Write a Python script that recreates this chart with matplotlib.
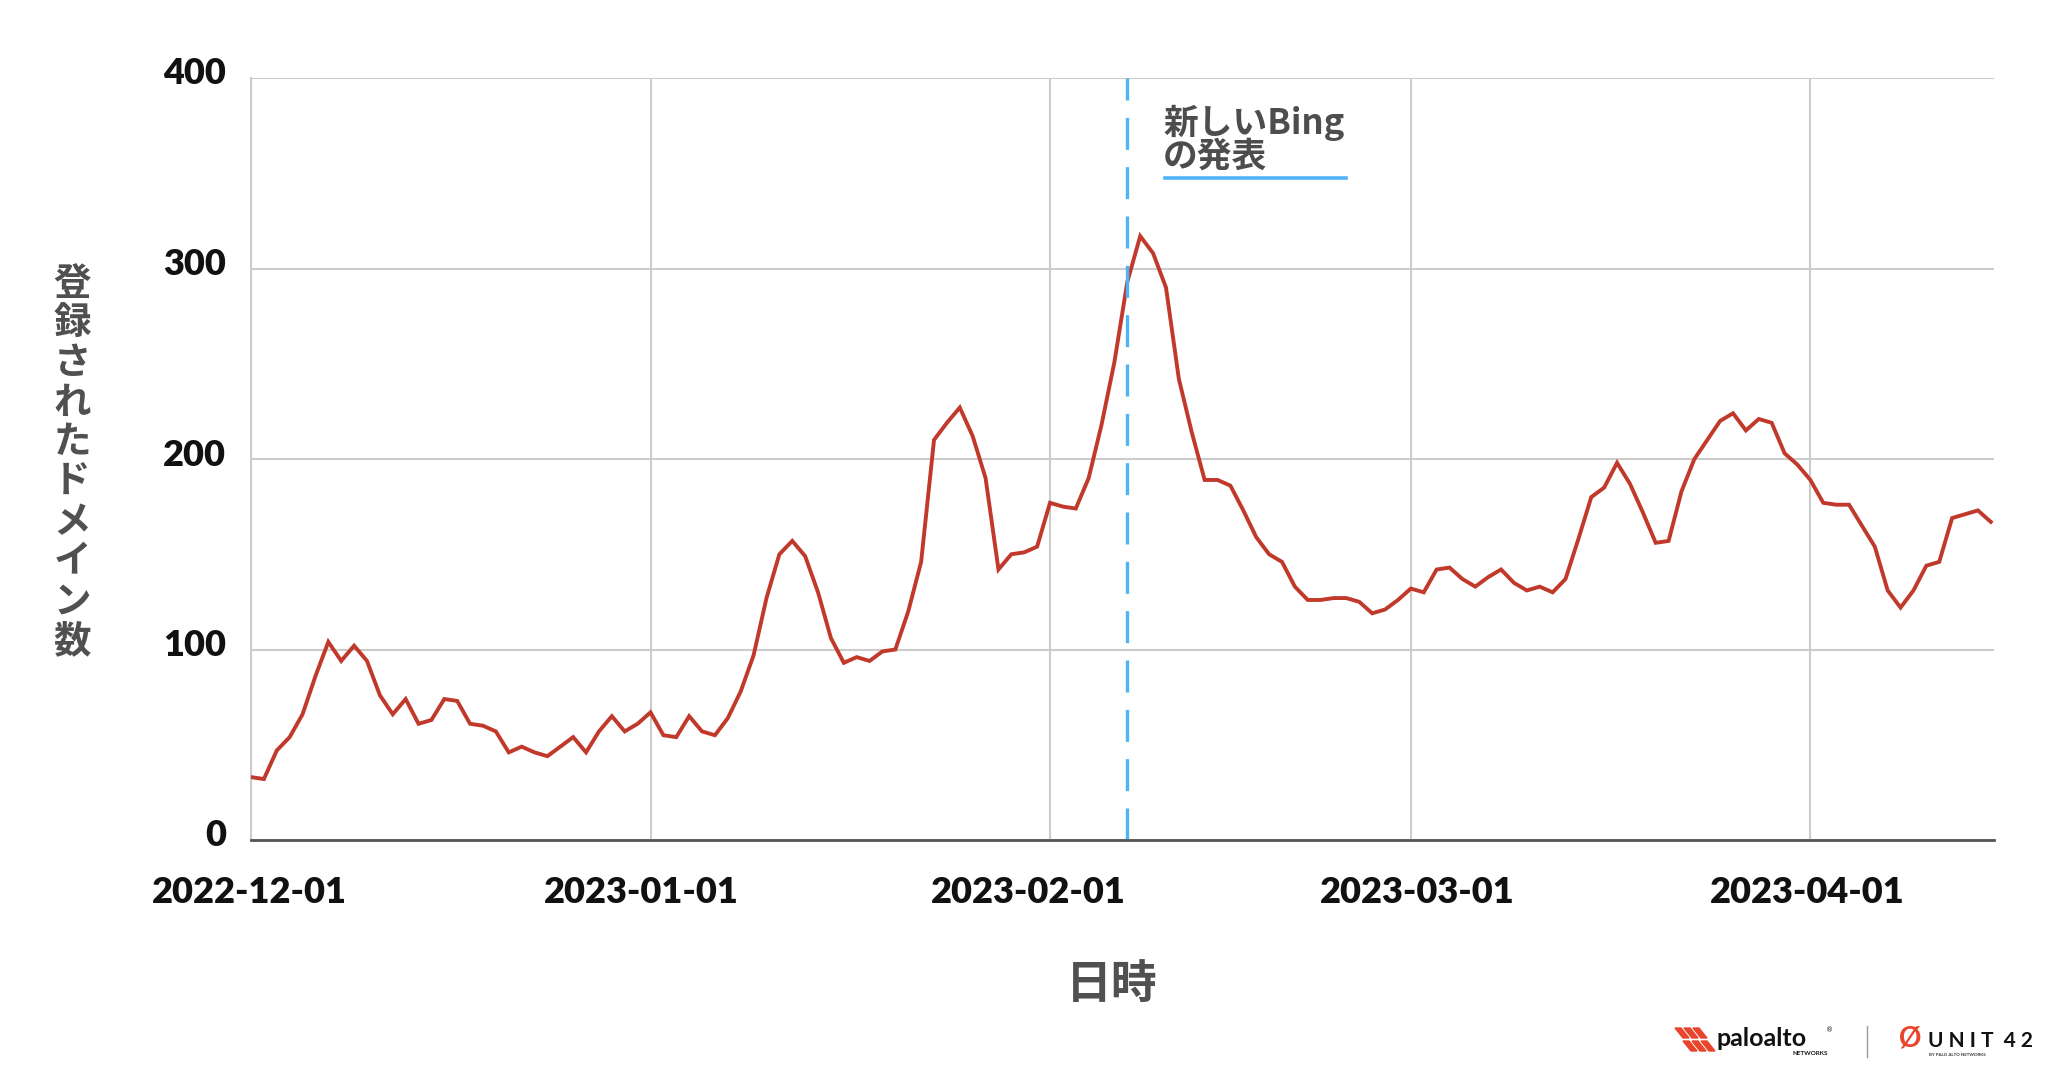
import numpy as np
import pandas as pd
import matplotlib
matplotlib.use('Agg')
import matplotlib.pyplot as plt
import matplotlib.dates as mdates
from matplotlib.transforms import ScaledTranslation
from matplotlib.lines import Line2D
from matplotlib.patches import Polygon

# daily counts of registered domains, 2022-12-01 .. 2023-04-15
start_date = '2022-12-01'
domains = [
    33, 32, 47, 54, 66, 86, 104, 94, 102, 94,
    76, 66, 74, 61, 63, 74, 73, 61, 60, 57,
    46, 49, 46, 44, 49, 54, 46, 57, 65, 57,
    61, 67, 55, 54, 65, 57, 55, 64, 78, 97,
    127, 150, 157, 149, 130, 106, 93, 96, 94, 99,
    100, 120, 146, 210, 219, 227, 212, 190, 142, 150,
    151, 154, 177, 175, 174, 190, 218, 251, 293, 317,
    308, 290, 242, 214, 189, 189, 186, 173, 159, 150,
    146, 133, 126, 126, 127, 127, 125, 119, 121, 126,
    132, 130, 142, 143, 137, 133, 138, 142, 135, 131,
    133, 130, 137, 158, 180, 185, 198, 187, 172, 156,
    157, 183, 200, 210, 220, 224, 215, 221, 219, 203,
    197, 189, 177, 176, 176, 165, 154, 131, 122, 131,
    144, 146, 169, 171, 173, 167,
]
xtick_labels = ['2022-12-01', '2023-01-01', '2023-02-01', '2023-03-01', '2023-04-01']
yticks = [0, 100, 200, 300, 400]
event_date = '2023-02-07'
event_label = ['新しいBing', 'の発表']
ylabel = '登録されたドメイン数'
xlabel = '日時'

dates = pd.date_range(start_date, periods=len(domains), freq='D')

W, H = 2048, 1074
fig = plt.figure(figsize=(W / 100, H / 100), dpi=100)
ax = fig.add_axes([251 / W, 1 - 840 / H, (1994 - 251) / W, (840 - 78) / H])

red = '#c0392b'
blue = '#4fb4f5'
gray_txt = '#505050'
tick_font = dict(family=['Lato', 'DejaVu Sans'], weight='heavy', size=26, color='#111111')
cjk = ['Noto Sans CJK JP', 'DejaVu Sans']

ax.plot(dates, domains, color=red, lw=2.8, zorder=3, solid_joinstyle='miter')
ax.axvline(pd.Timestamp(event_date), color=blue, lw=2.4,
           linestyle=(0, (9.6, 5.2)), zorder=4)

x0 = mdates.date2num(dates[0])
ax.set_xlim(x0, x0 + 135.25)
ax.set_ylim(0, 400)
ax.set_yticks(yticks)
ax.set_xticks([pd.Timestamp(t) for t in xtick_labels])
ax.set_xticklabels(xtick_labels, fontdict=tick_font)
ax.set_yticklabels([str(v) for v in yticks], fontdict=tick_font)
ax.tick_params(axis='both', length=0)
ax.tick_params(axis='x', pad=26)
ax.tick_params(axis='y', pad=18)
for lab in ax.get_yticklabels():
    lab.set_transform(lab.get_transform() + ScaledTranslation(0, 0.07, fig.dpi_scale_trans))
# the reference labels sit slightly off their gridlines
for lab, dx in zip(ax.get_xticklabels(), [-2, -9, -22, 6, -3]):
    lab.set_transform(lab.get_transform() + ScaledTranslation(dx / 100, 0, fig.dpi_scale_trans))

ax.grid(True, color='#cccccc', lw=1.5, zorder=0)
ax.set_axisbelow(True)
for s in ['top', 'right']:
    ax.spines[s].set_visible(False)
ax.spines['left'].set_color('#cccccc')
ax.spines['left'].set_linewidth(1.5)
ax.spines['bottom'].set_color('#555555')
ax.spines['bottom'].set_linewidth(2)
ax.spines['bottom'].set_zorder(5)

# event annotation
fig.text(1163 / W, 1 - 134 / H, event_label[0], family=cjk, weight='bold',
         size=25, color='#4d4d4d', va='baseline')
fig.text(1163 / W, 1 - 167 / H, event_label[1], family=cjk, weight='bold',
         size=25, color='#4d4d4d', va='baseline')
fig.add_artist(Line2D([1165 / W, 1346 / W], [1 - 178 / H, 1 - 178 / H],
                      color=blue, lw=2.6, transform=fig.transFigure))

# y label written vertically, one character per line
for i, ch in enumerate(ylabel):
    fig.text(72 / W, 1 - (283 + i * 39.7) / H, ch, family=cjk, weight='bold',
             size=27, color=gray_txt, ha='center', va='center')

fig.text(1112 / W, 1 - 986 / H, xlabel, family=cjk, weight='bold', size=33,
         color=gray_txt, ha='center', va='center')

# logos (approximation)
logo_red = '#e8452c'
for k in range(3):
    dx = k * 9
    for dy, off in [(0, 0), (13, 8)]:
        pts = [(1675 + dx + off, 1040 + dy - 12), (1681 + dx + off, 1040 + dy - 12),
               (1689 + dx + off, 1040 + dy - 2), (1683 + dx + off, 1040 + dy - 2)]
        fig.add_artist(Polygon([(px / W, 1 - py / H) for px, py in pts], closed=True,
                               color=logo_red, transform=fig.transFigure))
fig.text(1716 / W, 1 - 1046 / H, 'paloalto', family=['Lato', 'DejaVu Sans'],
         weight='bold', size=18, color='#111111', va='baseline')
fig.text(1826 / W, 1 - 1032 / H, '®', size=5, color='#111111', va='baseline')
fig.text(1828 / W, 1 - 1055 / H, 'NETWORKS', family=['Lato', 'DejaVu Sans'],
         weight='bold', size=4.5, color='#111111', ha='right', va='baseline')
fig.add_artist(Line2D([1867 / W, 1867 / W], [1 - 1026 / H, 1 - 1057 / H],
                      color='#999999', lw=1, transform=fig.transFigure))
fig.text(1910 / W, 1 - 1047 / H, 'Ø', family=['Lato', 'DejaVu Sans'], weight='bold',
         size=20, color=logo_red, ha='center', va='baseline')
fig.text(1928 / W, 1 - 1047 / H, 'U N I T  4 2', family=['Lato', 'DejaVu Sans'],
         weight='bold', size=15, color='#111111', va='baseline')
fig.text(1929 / W, 1 - 1056 / H, 'BY PALO ALTO NETWORKS', family=['Lato', 'DejaVu Sans'],
         weight='bold', size=3.2, color='#333333', va='baseline')

fig.savefig('out.png', dpi=100, facecolor='white')
